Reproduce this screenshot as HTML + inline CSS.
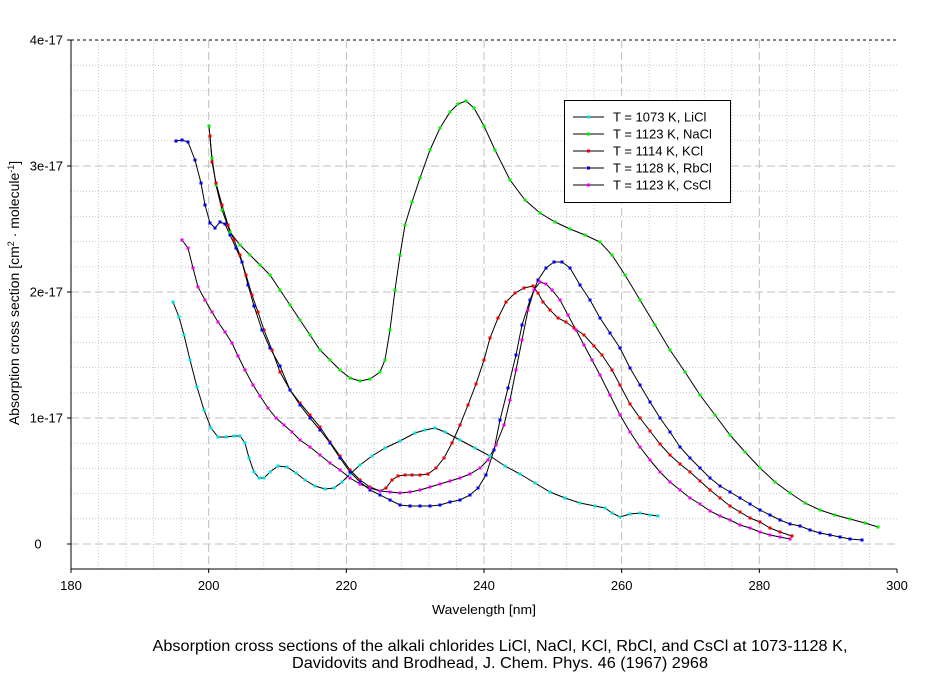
<!DOCTYPE html>
<html><head><meta charset="utf-8"><style>
body{margin:0;background:#fff;width:937px;height:676px;overflow:hidden}
svg{font-family:"Liberation Sans",Arial,sans-serif}
</style></head><body>
<svg id="s" width="937" height="676" xmlns="http://www.w3.org/2000/svg"></svg>
<script>
const s=document.getElementById('s');const NS='http://www.w3.org/2000/svg';
function el(t,a,txt){const e=document.createElementNS(NS,t);for(const k in a)e.setAttribute(k,a[k]);if(txt!==undefined)e.textContent=txt;s.appendChild(e);return e;}
const X0=71,X1=897,Y0=40,YB=569,YZ=544;
const px=n=>X0+(n-180)*(X1-X0)/120, py=v=>YZ-v*126;
for(let n=184;n<300;n+=4){if((n-180)%20==0)continue;const x=px(n);el('line',{x1:x,y1:Y0,x2:x,y2:YB,stroke:'#c8c8c8','stroke-dasharray':'1,2'});}
for(let v=0.2;v<4;v+=0.2){if(Math.abs(v-Math.round(v))<0.01)continue;const y=py(v);el('line',{x1:X0,y1:y,x2:X1,y2:y,stroke:'#c8c8c8','stroke-dasharray':'1,2'});}
for(let n=200;n<300;n+=20){const x=px(n);el('line',{x1:x,y1:Y0,x2:x,y2:YB,stroke:'#c0c0c0','stroke-dasharray':'8,4'});}
for(let v=0;v<4;v++){const y=py(v);el('line',{x1:X0,y1:y,x2:X1,y2:y,stroke:'#c0c0c0','stroke-dasharray':'8,4'});}
el('line',{x1:X0,y1:Y0,x2:X1,y2:Y0,stroke:'#000','stroke-dasharray':'3,3'});
el('line',{x1:X0,y1:Y0,x2:X0,y2:YB,stroke:'#000'});
el('line',{x1:X0,y1:YB,x2:X1,y2:YB,stroke:'#000'});
for(let n=180;n<=300;n+=20){const x=px(n);el('line',{x1:x,y1:YB,x2:x,y2:YB+4,stroke:'#000'});el('text',{x:x,y:590,'font-size':13,'text-anchor':'middle'},String(n));}
const yl=['0','1e-17','2e-17','3e-17','4e-17'];
for(let v=0;v<=4;v++){const y=py(v);el('line',{x1:X0-4,y1:y,x2:X0,y2:y,stroke:'#000'});el('text',{x:v==0?38:63,y:y+4.5,'font-size':13,'text-anchor':v==0?'middle':'end'},yl[v]);}
el('text',{x:484,y:614,'font-size':13,'text-anchor':'middle',textLength:104,lengthAdjust:'spacingAndGlyphs'},'Wavelength [nm]');
const t=el('text',{x:0,y:0,'font-size':14,'text-anchor':'middle',transform:'translate(19,293) rotate(-90)'});
t.innerHTML='Absorption cross section [cm<tspan dy="-5" font-size="9">2</tspan><tspan dy="5"> · molecule</tspan><tspan dy="-5" font-size="9">-1</tspan><tspan dy="5">]</tspan>';
el('text',{x:500,y:651,'font-size':16,'text-anchor':'middle',textLength:695,lengthAdjust:'spacingAndGlyphs'},'Absorption cross sections of the alkali chlorides LiCl, NaCl, KCl, RbCl, and CsCl at 1073-1128 K,');
el('text',{x:500,y:668,'font-size':16,'text-anchor':'middle',textLength:416,lengthAdjust:'spacingAndGlyphs'},'Davidovits and Brodhead, J. Chem. Phys. 46 (1967) 2968');
const series=[
['#00e0e0',[173,302,179,317,184,335,190,360,197,387,204,410,211,428,218,437,226,437,234,436,240,436,245,443,249,458,254,472,259,478,264,478,270,472,278,466,287,467,296,473,305,480,315,486,325,489,334,488,342,482,350,474,360,465,372,456,385,448,400,441,415,433,425,430,435,428,445,432,460,440,475,448,490,456,505,466,520,474,535,483,550,492,565,498,580,503,595,506,605,508,612,513,620,517,630,514,640,513,650,515,658,516]],
['#00ee00',[209,126,212,158,216,185,222,210,230,232,240,245,250,255,260,265,270,275,280,290,290,305,300,320,310,335,320,350,330,360,340,370,350,378,360,381,370,379,380,372,385,360,390,330,395,290,400,255,405,225,412,202,420,178,430,150,440,128,450,112,458,104,466,101,474,108,484,126,495,150,510,180,525,200,540,213,555,222,570,229,585,235,600,242,612,255,625,275,640,300,655,325,670,350,685,372,700,395,715,415,730,435,745,452,760,468,775,482,790,493,805,503,820,510,835,515,850,519,865,523,878,527]],
['#ee0000',[210,136,212,162,216,183,222,205,228,225,234,240,240,255,246,275,252,295,258,312,264,330,272,350,280,372,290,390,300,403,310,415,320,427,330,442,340,456,350,470,360,480,370,487,380,491,386,488,392,480,398,476,405,475,412,475,420,475,428,474,436,468,444,458,452,443,460,425,468,405,476,384,484,360,490,338,498,318,506,302,515,293,524,288,533,286,538,293,543,302,550,310,558,318,566,322,574,328,584,335,594,346,602,355,612,370,620,385,630,404,640,418,650,431,660,444,670,455,680,464,690,472,700,481,710,490,720,498,730,506,740,512,750,518,760,522,770,528,780,532,792,536]],
['#0000ee',[176,141,182,140,188,142,195,160,201,183,205,205,210,223,215,228,220,222,225,224,230,235,236,248,242,262,248,285,254,306,262,330,270,348,280,366,290,390,300,405,310,418,320,430,330,443,340,458,350,472,360,482,370,490,380,495,390,500,400,505,410,506,420,506,430,506,440,505,450,502,460,500,470,495,478,488,486,475,494,450,500,420,508,388,516,355,522,325,530,300,538,280,546,268,554,262,562,262,570,268,580,285,590,300,600,318,610,333,620,348,630,368,640,385,650,402,660,418,670,432,680,447,690,458,700,468,710,478,720,486,730,492,740,498,750,504,760,510,770,515,780,520,790,524,800,526,810,530,820,533,830,535,840,537,850,539,862,540]],
['#ee00ee',[182,240,188,248,193,268,198,287,205,300,212,312,218,322,225,332,232,343,238,356,245,370,253,385,260,396,268,408,276,418,284,425,292,432,300,440,310,447,320,455,330,463,340,470,350,478,360,484,370,488,380,491,390,492,400,493,410,492,420,490,430,487,440,484,450,481,460,478,470,474,480,468,488,460,496,445,504,425,510,400,516,370,522,340,528,310,534,290,540,282,546,284,552,290,560,300,568,315,576,330,584,345,592,360,600,375,610,395,620,415,630,432,640,447,650,460,660,472,670,482,680,490,690,498,700,504,710,511,720,516,730,520,740,525,750,528,760,532,770,535,780,537,790,539]]];
for(const [c,p] of series){let pts='';for(let i=0;i<p.length;i+=2)pts+=p[i]+','+p[i+1]+' ';el('polyline',{points:pts,fill:'none',stroke:'#000','stroke-width':1});}
for(const [c,p] of series){for(let i=0;i<p.length;i+=2)el('rect',{x:p[i]-1.5,y:p[i+1]-1.5,width:3,height:3,fill:c});}
el('rect',{x:564.5,y:100.5,width:166,height:102,fill:'#fff',stroke:'#000'});
const names=['T = 1073 K, LiCl','T = 1123 K, NaCl','T = 1114 K, KCl','T = 1128 K, RbCl','T = 1123 K, CsCl'];
for(let i=0;i<5;i++){const y=117+i*17;el('line',{x1:573,y1:y,x2:604,y2:y,stroke:'#000'});el('rect',{x:587,y:y-1.5,width:3,height:3,fill:series[i][0]});el('text',{x:613,y:y+4.5,'font-size':13},names[i]);}
</script>
</body></html>
